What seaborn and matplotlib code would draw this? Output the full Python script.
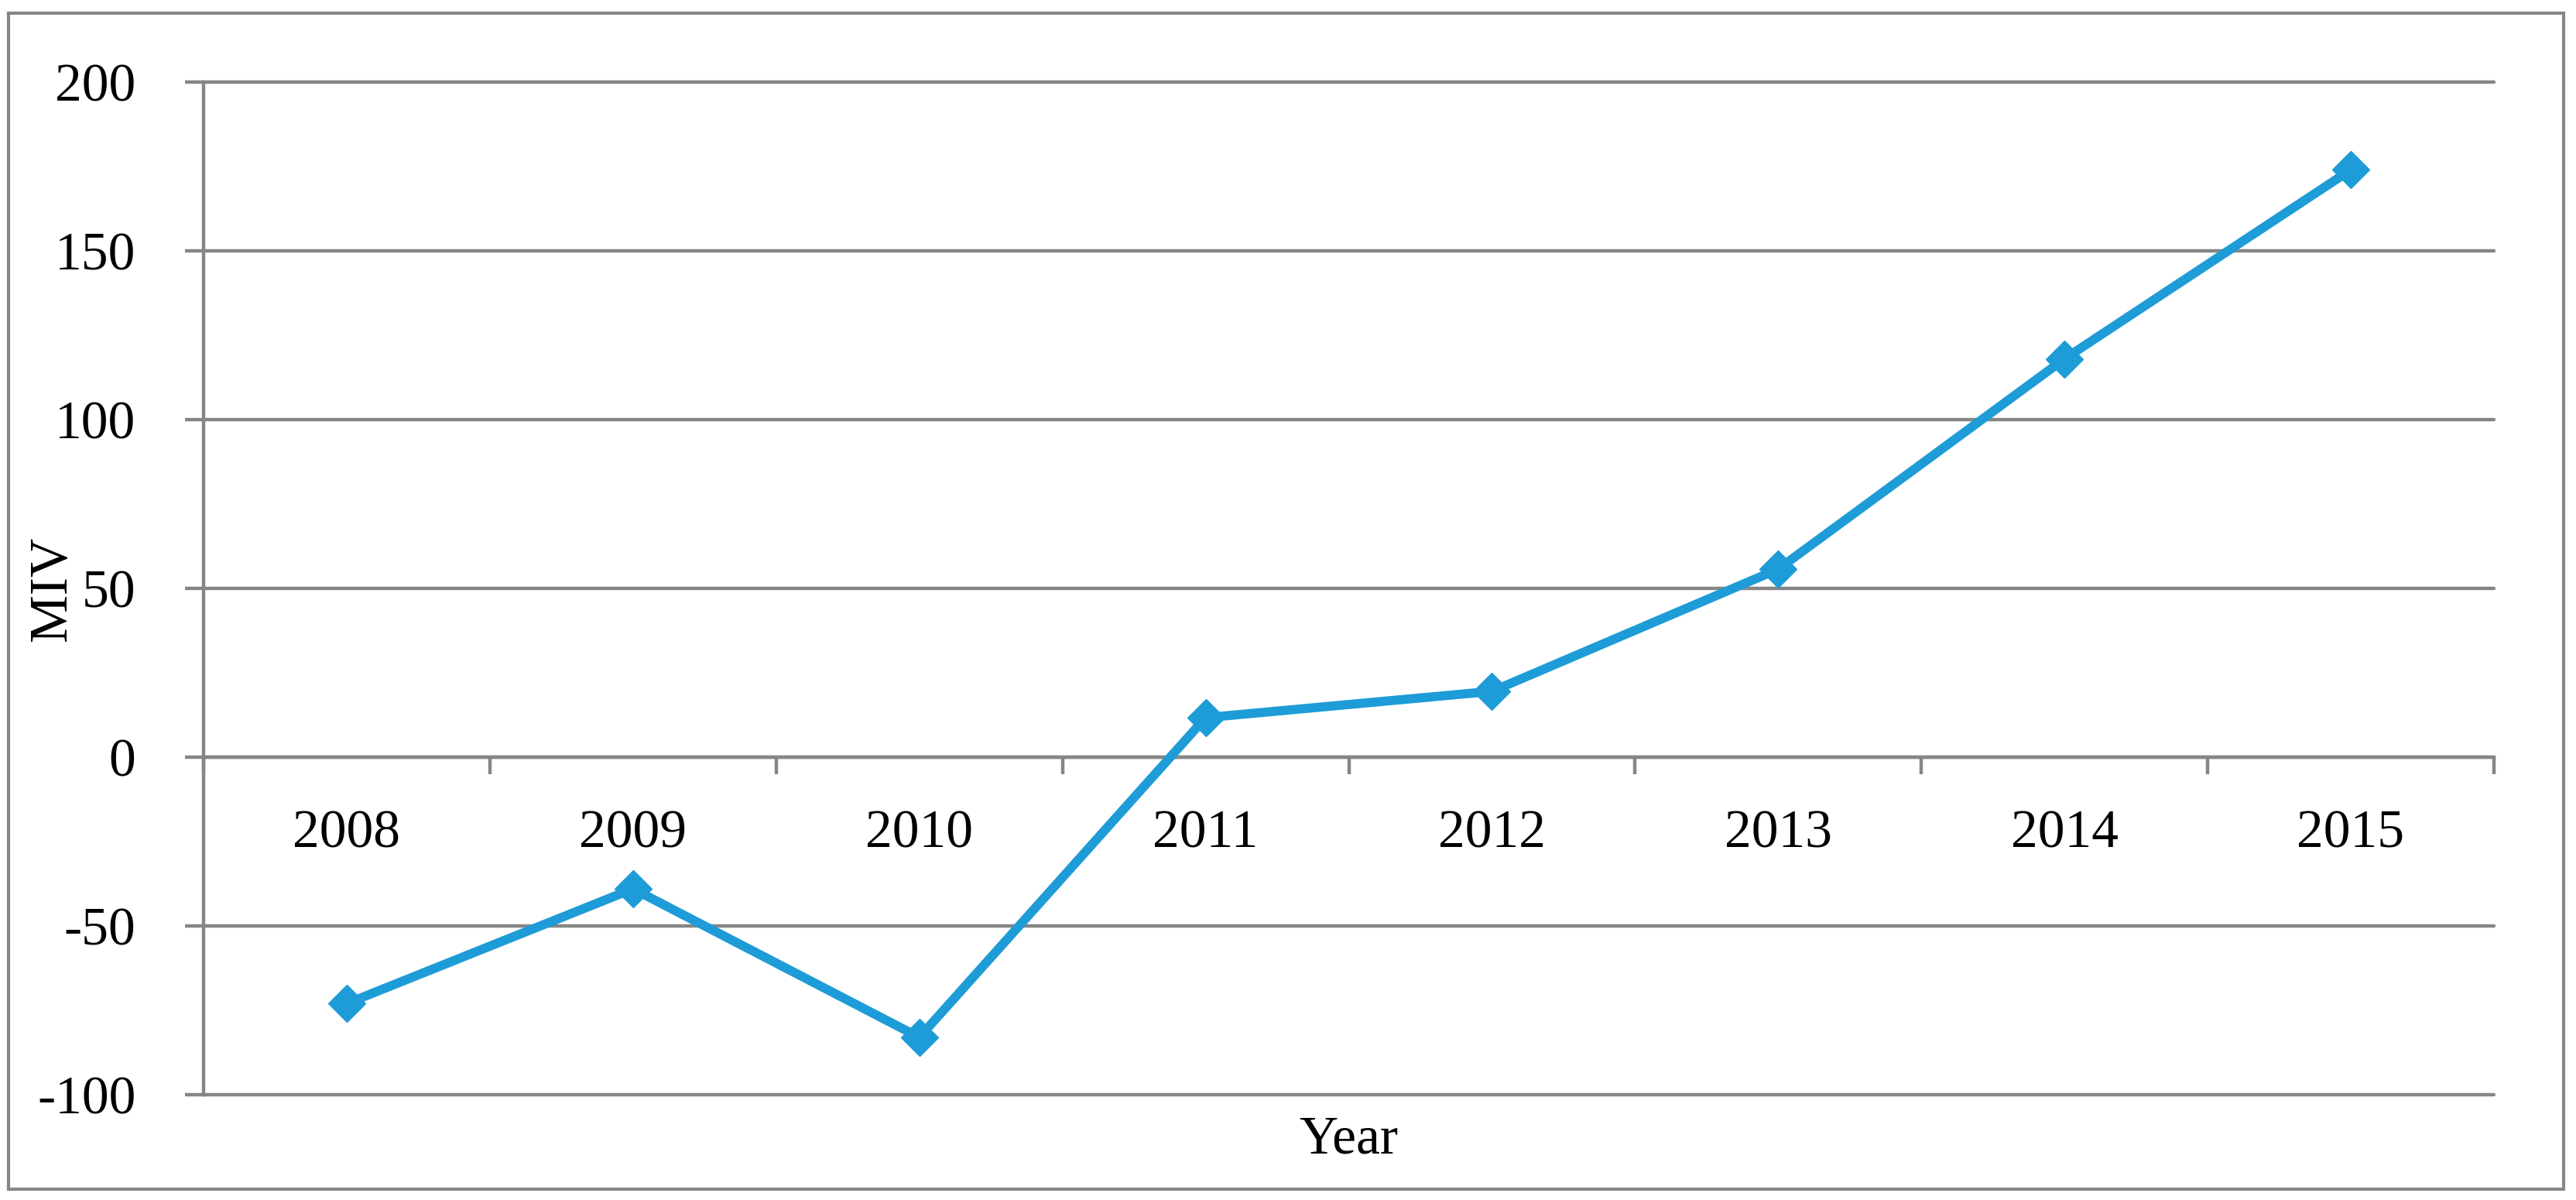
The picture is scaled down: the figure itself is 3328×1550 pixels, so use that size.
import numpy as np
import pandas as pd
import seaborn as sns
import matplotlib.pyplot as plt
from matplotlib.patches import Rectangle

# Data
years = ['2008', '2009', '2010', '2011', '2012', '2013', '2014', '2015']
miv = [-73, -39, -83, 11.7, 19.5, 55.7, 118, 174]
y_ticks = [-100, -50, 0, 50, 100, 150, 200]

df = pd.DataFrame({'Year': years, 'MIV': miv})

sns.set_style('white')
plt.rcParams['font.family'] = ['Liberation Serif', 'DejaVu Serif']
plt.rcParams['text.color'] = 'black'
plt.rcParams['axes.labelcolor'] = 'black'
plt.rcParams['xtick.labelcolor'] = 'black'
plt.rcParams['ytick.labelcolor'] = 'black'

GRAY = '#868686'
BLUE = '#1E9CD7'
W, H = 3328, 1550
FS = 50

fig = plt.figure(figsize=(W / 100, H / 100), dpi=100)
ax = fig.add_axes([263 / W, 1 - 1414 / H, (3222 - 263) / W, (1414 - 106) / H])

sns.lineplot(data=df, x='Year', y='MIV', ax=ax, sort=False, color=BLUE,
             linewidth=8.5, marker='D', markersize=24, markeredgewidth=1,
             markeredgecolor=BLUE, zorder=5)

ax.set_xlim(-0.5, len(years) - 0.5)
ax.set_ylim(-100, 200)

# y axis: gridlines with outward ticks
ax.set_yticks(y_ticks)
ax.set_yticklabels([str(v) for v in y_ticks])
ax.grid(axis='y', color=GRAY, linewidth=3.2)
ax.grid(axis='x', visible=False)
for gl in ax.get_ygridlines():
    gl.set_clip_on(False)
ax.tick_params(axis='y', which='major', direction='out', length=17, width=3.2,
               color=GRAY, pad=46, labelsize=FS, left=True)

# x axis crosses at zero, tick marks between categories
ax.spines['bottom'].set_position(('data', 0))
ax.set_xticks(range(len(years)))
ax.set_xticklabels(years)
ax.set_xticks(np.arange(-0.5, len(years), 1), minor=True)
ax.tick_params(axis='x', which='major', length=0, pad=84, labelsize=FS)
ax.tick_params(axis='x', which='minor', direction='out', length=16, width=3.2,
               color=GRAY, bottom=True)
for lab in ax.get_xticklabels():
    lab.set_verticalalignment('baseline')

for side in ['top', 'right']:
    ax.spines[side].set_visible(False)
for side in ['left', 'bottom']:
    ax.spines[side].set_color(GRAY)
    ax.spines[side].set_linewidth(3.2)

ax.set_xlabel('Year', fontsize=FS, va='baseline')
ax.xaxis.set_label_coords(0.5, (1414 - 1490) / (1414 - 106))
ax.set_ylabel('MIV', fontsize=FS)
ax.yaxis.set_label_coords((100 - 263) / (3222 - 263), 0.5)

# outer chart border
fig.patches.append(Rectangle((11 / W, 1 - 1536 / H), (3312 - 11) / W, (1536 - 17) / H,
                             transform=fig.transFigure, fill=False,
                             edgecolor=GRAY, linewidth=3))

fig.savefig('out.png', dpi=100)
